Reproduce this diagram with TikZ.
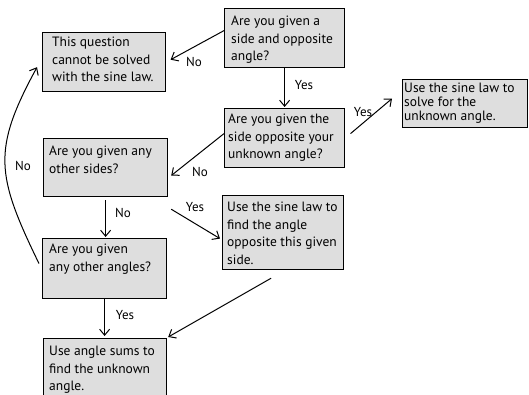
\documentclass[tikz,border=0pt]{standalone}
\usepackage{fontspec}
\setmainfont{PT Sans}
\usetikzlibrary{calc,arrows.meta}
\tikzset{
  box/.style={draw=black, line width=1.2pt, fill=black!13, anchor=north west, inner sep=0pt},
  txt/.style={anchor=north west, inner sep=0pt, align=left, font=\fontsize{13.5}{17.5}\selectfont},
  txtr/.style={txt, font=\fontsize{13.5}{14}\selectfont},
  arr/.style={-{Straight Barb[length=6pt,width=10pt,line width=1pt]}, line width=1pt},
  lbl/.style={inner sep=0pt, font=\fontsize{13}{15}\selectfont},
}
\begin{document}
\begin{tikzpicture}[x=1pt,y=-1pt]
\useasboundingbox (0,0) rectangle (529,395);
\clip (0,0) rectangle (529,395);
% boxes
\node[box, minimum width=120pt, minimum height=59pt] (A) at (224,8) {};
\node[box, minimum width=123pt, minimum height=59pt] (N) at (42,32) {};
\node[box, minimum width=120pt, minimum height=59pt] (B) at (224,108) {};
\node[box, minimum width=125pt, minimum height=48pt] (R) at (402,79) {};
\node[box, minimum width=124pt, minimum height=58pt] (O) at (43,138) {};
\node[box, minimum width=121pt, minimum height=74pt] (F) at (222,195) {};
\node[box, minimum width=124pt, minimum height=60pt] (G) at (42,238) {};
\node[box, minimum width=123pt, minimum height=70pt] (U) at (43,338) {};
% texts
\node[txt] (At) at (231,16) {Are you given a\\side and opposite\\angle?};
\node[txt] (Nt) at (52,37) {This question\\cannot be solved\\with the sine law.};
\node[txt] (Bt) at (228,114) {Are you given the\\side opposite your\\unknown angle?};
\node[txtr] (Rt) at (404,83) {Use the sine law to\\solve for the\\unknown angle.};
\node[txt] (Ot) at (49,146) {Are you given any\\other sides?};
\node[txt] (Ft) at (227,202) {Use the sine law to\\find the angle\\opposite this given\\side.};
\node[txt] (Gt) at (49,244) {Are you given\\any other angles?};
\node[txt] (Ut) at (49,346) {Use angle sums to\\find the unknown\\angle.};
% connectors
\draw[arr, shorten >=5pt] ([yshift=7.5pt]A.west) -- (N.east);
\node[lbl] (l1) at (194,62) {No};
\draw[arr, shorten >=1pt] (A.south) -- (B.north);
\node[lbl] (l2) at (304,85) {Yes};
\draw[arr, shorten <=7pt] (B.east) -- ([xshift=-10pt,yshift=5pt]R.west);
\node[lbl] (l3) at (363,112) {Yes};
\draw[arr] ([yshift=4.5pt]B.west) -- ([xshift=3pt,yshift=-8pt]O.east);
\node[lbl] (l4) at (200,172) {No};
\draw[arr, shorten <=3pt, shorten >=1pt] (O.south) -- (O.south |- G.north);
\node[lbl] (l5) at (123,213) {No};
\draw[arr] ([xshift=3pt,yshift=-12pt]O.south east) -- ([xshift=-2pt,yshift=-6pt]F.west);
\node[lbl] (l6) at (195,207) {Yes};
\draw[arr, shorten >=2pt] (G.south) -- (G.south |- U.north);
\node[lbl] (l7) at (125,315) {Yes};
\draw[arr] ([xshift=-12pt,yshift=-8pt]F.south) -- ([xshift=1pt,yshift=1pt]U.north east);
\draw[arr] ([xshift=-3pt,yshift=5pt]G.west) .. controls (-4,175) and (-8,150) .. ([xshift=-5pt,yshift=25pt]N.south west);
\node[lbl] (l8) at (23,166) {No};
\end{tikzpicture}
\end{document}
